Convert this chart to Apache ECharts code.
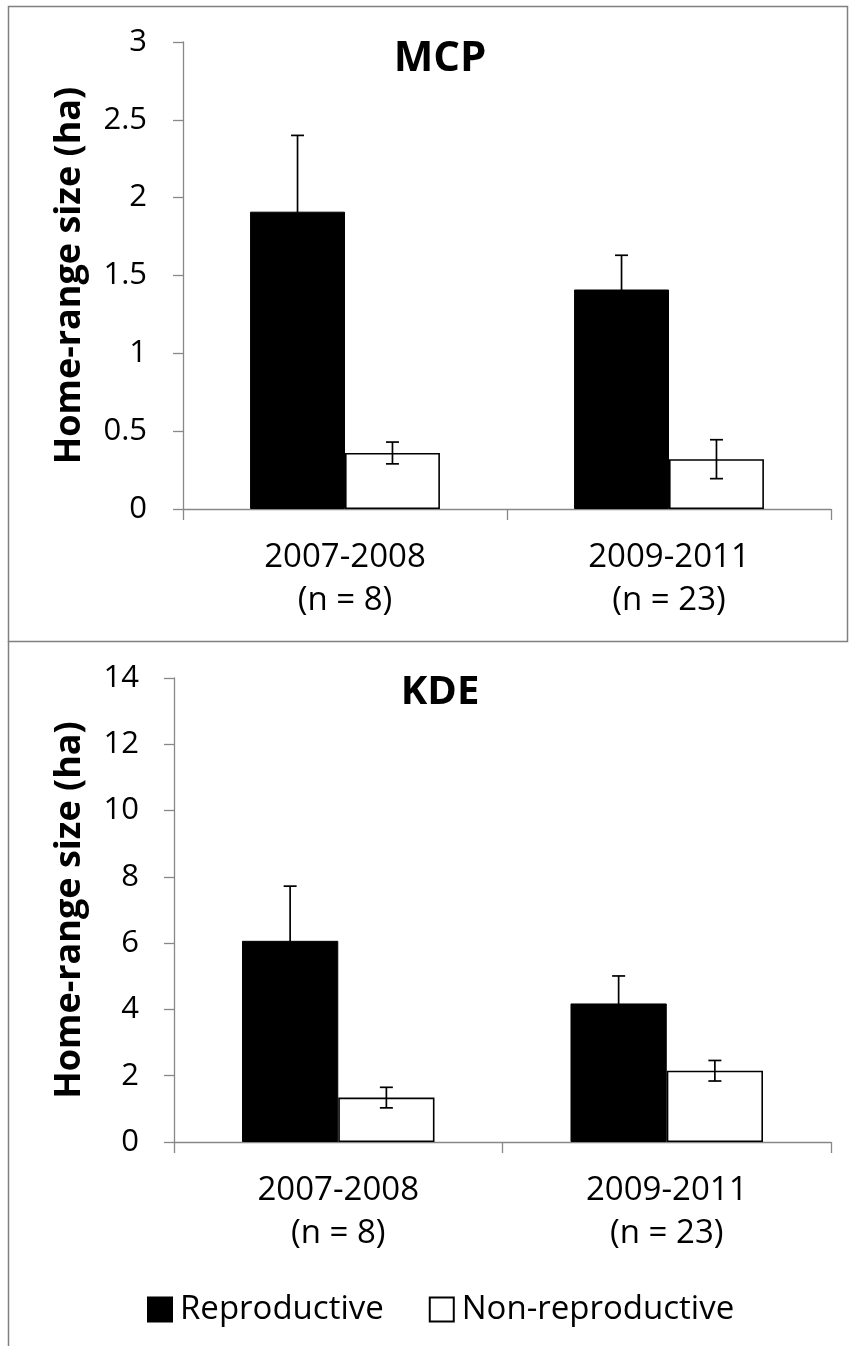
<!DOCTYPE html>
<html>
<head>
<meta charset="utf-8">
<script src="https://cdn.jsdelivr.net/npm/echarts@6/dist/echarts.min.js"></script>
<style>
html,body{margin:0;padding:0;background:#fff;}
#chart{width:850px;height:1346px;}
</style>
</head>
<body>
<div id="chart"></div>
<script>
// ---- data ----
var categories = ['2007-2008\n(n = 8)', '2009-2011\n(n = 23)'];
var seriesNames = ['Reproductive', 'Non-reproductive'];
var panelTitles = ['MCP', 'KDE'];
var yAxisName = 'Home-range size (ha)';

var mcpRep = [1.91, 1.41];
var mcpRepErr = [0.49, 0.22];
var mcpNon = [0.36, 0.32];
var mcpNonErr = [0.07, 0.125];

var kdeRep = [6.07, 4.18];
var kdeRepErr = [1.65, 0.83];
var kdeNon = [1.34, 2.15];
var kdeNonErr = [0.31, 0.31];

var mcpTicks = {min: 0, max: 3, interval: 0.5};
var kdeTicks = {min: 0, max: 14, interval: 2};

// ---- styling ----
var FONT = '"Open Sans", sans-serif';
var GRAY = '#888888';
var BARPCT = 0.293;

function errData(vals, errs) {
  return vals.map(function (v, i) { return [i, v, errs[i]]; });
}

function errRender(sign) {
  return function (params, api) {
    var c = api.value(0), v = api.value(1), e = api.value(2);
    var p = api.coord([c, v]);
    var bw = api.size([1, 0])[0] * BARPCT;
    var x = p[0] + sign * bw / 2;
    var yHi = api.coord([c, v + e])[1];
    var yLo = api.coord([c, v - e])[1];
    var cap = 6.5;
    var st = {stroke: '#000', lineWidth: 1.7};
    return {
      type: 'group',
      children: [
        {type: 'line', shape: {x1: x, y1: yHi, x2: x, y2: yLo}, style: st},
        {type: 'line', shape: {x1: x - cap, y1: yHi, x2: x + cap, y2: yHi}, style: st},
        {type: 'line', shape: {x1: x - cap, y1: yLo, x2: x + cap, y2: yLo}, style: st}
      ]
    };
  };
}

function xAxisCfg(gi) {
  return {
    type: 'category', gridIndex: gi, data: categories,
    axisLine: {lineStyle: {color: GRAY, width: 1.3}},
    axisTick: {show: true, length: 11, lineStyle: {color: GRAY, width: 1.3}},
    axisLabel: {color: '#000', fontFamily: FONT, fontSize: 33, lineHeight: 43, margin: 27}
  };
}
function yAxisCfg(gi, t, gap, margin) {
  return {
    type: 'value', gridIndex: gi, min: t.min, max: t.max, interval: t.interval,
    name: yAxisName, nameLocation: 'middle', nameRotate: 90, nameGap: gap,
    nameTextStyle: {color: '#000', fontFamily: FONT, fontSize: 36, fontWeight: 'bold'},
    axisLine: {show: true, lineStyle: {color: GRAY, width: 1.3}},
    axisTick: {show: true, length: 10, lineStyle: {color: GRAY, width: 1.3}},
    axisLabel: {color: '#000', fontFamily: FONT, fontSize: 31, margin: margin},
    splitLine: {show: false}
  };
}

var repStyle = {color: '#000', borderColor: '#000', borderWidth: 1};
var nonStyle = {color: '#fff', borderColor: '#000', borderWidth: 1.6};

var option = {
  animation: false,
  backgroundColor: '#fff',
  title: [
    {text: panelTitles[0], left: 435, top: 33, textAlign: 'center',
     textStyle: {fontFamily: FONT, fontSize: 42, fontWeight: 'bold', color: '#000'}},
    {text: panelTitles[1], left: 435, top: 668, textAlign: 'center',
     textStyle: {fontFamily: FONT, fontSize: 40, fontWeight: 'bold', color: '#000'}}
  ],
  legend: {
    data: [
      {name: seriesNames[0], icon: 'rect'},
      {name: seriesNames[1], icon: 'rect'}
    ],
    left: 142, top: 1288,
    itemWidth: 24, itemHeight: 24, itemGap: 45,
    textStyle: {fontFamily: FONT, fontSize: 33, color: '#000', padding: [0, 0, 0, 3]}
  },
  grid: [
    {left: 183, top: 42, width: 648, height: 467},
    {left: 174, top: 678, width: 657, height: 464}
  ],
  xAxis: [xAxisCfg(0), xAxisCfg(1)],
  yAxis: [yAxisCfg(0, mcpTicks, 95, 36), yAxisCfg(1, kdeTicks, 86, 35)],
  graphic: [
    {type: 'rect', shape: {x: 8.5, y: 6.5, width: 839, height: 635}, style: {fill: 'none', stroke: '#808080', lineWidth: 1.5}, silent: true},
    {type: 'line', shape: {x1: 8.5, y1: 641, x2: 8.5, y2: 1346}, style: {stroke: '#808080', lineWidth: 1.5}, silent: true}
  ],
  series: [
    {name: seriesNames[0], type: 'bar', xAxisIndex: 0, yAxisIndex: 0, data: mcpRep, barWidth: (BARPCT * 100) + '%', barGap: '0%', itemStyle: repStyle},
    {name: seriesNames[1], type: 'bar', xAxisIndex: 0, yAxisIndex: 0, data: mcpNon, barWidth: (BARPCT * 100) + '%', barGap: '0%', itemStyle: nonStyle},
    {name: 'errMcpRep', type: 'custom', xAxisIndex: 0, yAxisIndex: 0, data: errData(mcpRep, mcpRepErr), renderItem: errRender(-1), z: 5},
    {name: 'errMcpNon', type: 'custom', xAxisIndex: 0, yAxisIndex: 0, data: errData(mcpNon, mcpNonErr), renderItem: errRender(1), z: 5},
    {name: seriesNames[0], type: 'bar', xAxisIndex: 1, yAxisIndex: 1, data: kdeRep, barWidth: (BARPCT * 100) + '%', barGap: '0%', itemStyle: repStyle},
    {name: seriesNames[1], type: 'bar', xAxisIndex: 1, yAxisIndex: 1, data: kdeNon, barWidth: (BARPCT * 100) + '%', barGap: '0%', itemStyle: nonStyle},
    {name: 'errKdeRep', type: 'custom', xAxisIndex: 1, yAxisIndex: 1, data: errData(kdeRep, kdeRepErr), renderItem: errRender(-1), z: 5},
    {name: 'errKdeNon', type: 'custom', xAxisIndex: 1, yAxisIndex: 1, data: errData(kdeNon, kdeNonErr), renderItem: errRender(1), z: 5}
  ]
};

var chart = echarts.init(document.getElementById('chart'), null, {renderer: 'canvas'});
chart.setOption(option);
</script>
</body>
</html>
